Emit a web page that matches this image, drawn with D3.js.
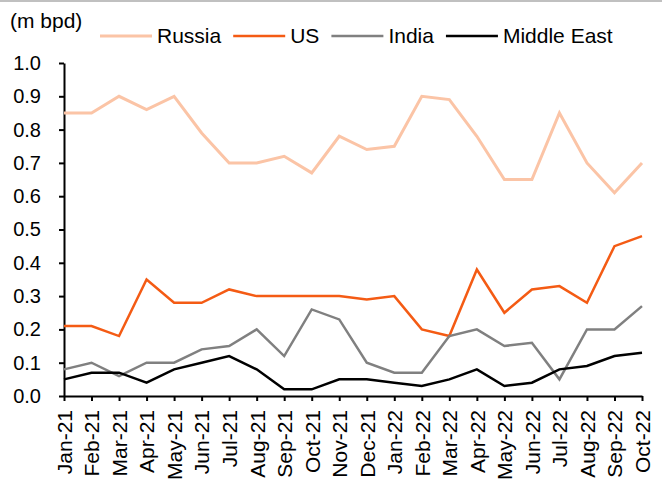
<!DOCTYPE html>
<html>
<head>
<meta charset="utf-8">
<script src="https://cdn.jsdelivr.net/npm/d3@7"></script>
<style>
	body { margin: 0; background: #fff; }
	svg { display: block; font-family: "Liberation Sans", Arial, sans-serif; }
</style>
</head>
<body>
<script>
const months = ['Jan-21', 'Feb-21', 'Mar-21', 'Apr-21', 'May-21', 'Jun-21', 'Jul-21', 'Aug-21', 'Sep-21', 'Oct-21', 'Nov-21', 'Dec-21',
	'Jan-22', 'Feb-22', 'Mar-22', 'Apr-22', 'May-22', 'Jun-22', 'Jul-22', 'Aug-22', 'Sep-22', 'Oct-22'];

const russia = [0.85, 0.85, 0.90, 0.86, 0.90, 0.79, 0.70, 0.70, 0.72, 0.67, 0.78, 0.74, 0.75, 0.90, 0.89, 0.78, 0.65, 0.65, 0.85, 0.70, 0.61, 0.70];
const us = [0.21, 0.21, 0.18, 0.35, 0.28, 0.28, 0.32, 0.30, 0.30, 0.30, 0.30, 0.29, 0.30, 0.20, 0.18, 0.38, 0.25, 0.32, 0.33, 0.28, 0.45, 0.48];
const india = [0.08, 0.10, 0.06, 0.10, 0.10, 0.14, 0.15, 0.20, 0.12, 0.26, 0.23, 0.10, 0.07, 0.07, 0.18, 0.20, 0.15, 0.16, 0.05, 0.20, 0.20, 0.27];
const middleEast = [0.05, 0.07, 0.07, 0.04, 0.08, 0.10, 0.12, 0.08, 0.02, 0.02, 0.05, 0.05, 0.04, 0.03, 0.05, 0.08, 0.03, 0.04, 0.08, 0.09, 0.12, 0.13];

const yTicks = [0, 0.1, 0.2, 0.3, 0.4, 0.5, 0.6, 0.7, 0.8, 0.9, 1.0];

const series = [
	{name: 'Russia', values: russia, color: '#fbc4a6', width: 3},
	{name: 'US', values: us, color: '#f45b14', width: 2.5},
	{name: 'India', values: india, color: '#808080', width: 2.5},
	{name: 'Middle East', values: middleEast, color: '#000000', width: 2.5}
];

const svgSize = {width: 662, height: 479};
const plot = {left: 64, right: 642, top: 63, bottom: 396};

var svg = d3.select('body').append('svg')
	.attr('width', svgSize.width)
	.attr('height', svgSize.height);

// thin grey rule along the top edge
svg.append('line')
	.attr('x1', 0).attr('x2', svgSize.width)
	.attr('y1', 1).attr('y2', 1)
	.attr('stroke', '#c0c0c0')
	.attr('stroke-width', 2);

var x = d3.scalePoint().domain(months).range([plot.left, plot.right]);
var y = d3.scaleLinear().domain([0, 1]).range([plot.bottom, plot.top]);

// y axis
var yAxisG = svg.append('g')
	.attr('transform', `translate(${plot.left}, 0)`)
	.call(d3.axisLeft(y).tickValues(yTicks).tickFormat(d3.format('.1f')).tickSize(5).tickSizeOuter(0).tickPadding(18));

// x axis
var xAxisG = svg.append('g')
	.attr('transform', `translate(0, ${plot.bottom})`)
	.call(d3.axisBottom(x).tickSize(5).tickSizeOuter(0));

[yAxisG, xAxisG].forEach(g => {
	g.select('.domain').attr('stroke', '#000').attr('stroke-width', 2);
	g.selectAll('.tick line').attr('stroke', '#000').attr('stroke-width', 2);
	g.selectAll('text').attr('fill', '#000').style('font-size', '20px').style('font-family', '"Liberation Sans", Arial, sans-serif');
});

xAxisG.selectAll('text')
	.attr('transform', 'rotate(-90)')
	.attr('x', -14)
	.attr('y', 0)
	.attr('dy', '0.35em')
	.attr('text-anchor', 'end')
	.style('font-size', '21px');

// lines
var line = d3.line()
	.x((d, i) => x(months[i]))
	.y(d => y(d));

svg.append('g')
	.selectAll('path')
	.data(series)
	.enter()
	.append('path')
	.attr('d', d => line(d.values))
	.attr('fill', 'none')
	.attr('stroke', d => d.color)
	.attr('stroke-width', d => d.width)
	.attr('stroke-linejoin', 'miter');

// unit label
svg.append('text')
	.attr('x', 10)
	.attr('y', 28)
	.style('font-size', '21px')
	.text('(m bpd)');

// legend
var legend = svg.append('g');
var lx = 100;
series.forEach(s => {
	legend.append('line')
		.attr('x1', lx).attr('x2', lx + 52)
		.attr('y1', 36).attr('y2', 36)
		.attr('stroke', s.color)
		.attr('stroke-width', s.width);
	var t = legend.append('text')
		.attr('x', lx + 57)
		.attr('y', 43)
		.style('font-size', '21px')
		.text(s.name);
	lx += 57 + t.node().getComputedTextLength() + 12;
});
</script>
</body>
</html>
